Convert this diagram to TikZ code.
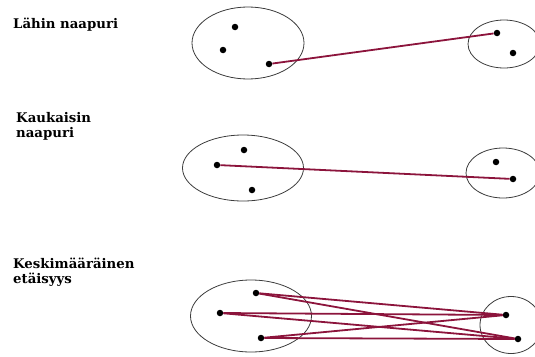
\documentclass[tikz,border=0pt]{standalone}
\usepackage{fontspec}
\setmainfont{DejaVu Serif}
\usetikzlibrary{shapes.geometric}
\definecolor{linkred}{RGB}{140,20,60}
\definecolor{rimgray}{RGB}{60,60,60}
\tikzset{
  grp/.style={draw=rimgray, line width=0.8pt, ellipse, inner sep=0pt},
  dot/.style={circle, fill=black, inner sep=0pt, minimum size=6.5pt},
  link/.style={draw=linkred, line width=1.8pt},
  lbl/.style={anchor=base west, inner sep=0pt, font=\bfseries\fontsize{13.3}{15}\selectfont, align=left}
}
\begin{document}
\begin{tikzpicture}[x=1pt,y=-1pt]
\useasboundingbox (0,0) rectangle (535,356);
\clip (0,0) rectangle (535,356);
% Row 1
\node[lbl] (t1) at (13,28) {Lähin naapuri};
\node[grp, minimum width=112pt, minimum height=72pt] (e1a) at (248,43) {};
\node[grp, minimum width=72pt, minimum height=48pt] (e1b) at (504,44) {};
\node[dot] (p1a) at (235,27) {};
\node[dot] (p1b) at (223,50) {};
\node[dot] (p1c) at (269,64) {};
\node[dot] (q1a) at (497,33) {};
\node[dot] (q1b) at (513,53) {};
\draw[link] (p1c) -- (q1a);
% Row 2
\node[lbl] (t2) at (16,137) {Kaukaisin\\naapuri};
\node[grp, minimum width=121pt, minimum height=66pt] (e2a) at (243,168) {};
\node[grp, minimum width=74pt, minimum height=50pt] (e2b) at (503,173) {};
\node[dot] (p2a) at (244,150) {};
\node[dot] (p2b) at (217,165) {};
\node[dot] (p2c) at (252,190) {};
\node[dot] (q2a) at (496,162) {};
\node[dot] (q2b) at (513,179) {};
\draw[link] (p2b) -- (q2b);
% Row 3
\node[lbl] (t3) at (13,283) {Keskimääräinen\\etäisyys};
\node[grp, minimum width=121pt, minimum height=72pt] (e3a) at (251,316) {};
\node[grp, minimum width=62pt, minimum height=57pt] (e3b) at (511,325) {};
\node[dot] (p3a) at (256,293) {};
\node[dot] (p3b) at (220,313) {};
\node[dot] (p3c) at (261,338) {};
\node[dot] (q3a) at (506,315) {};
\node[dot] (q3b) at (518,339) {};
\foreach \p in {p3a,p3b,p3c}{
  \foreach \q in {q3a,q3b}{
    \draw[link] (\p) -- (\q);
  }
}
\end{tikzpicture}
\end{document}
